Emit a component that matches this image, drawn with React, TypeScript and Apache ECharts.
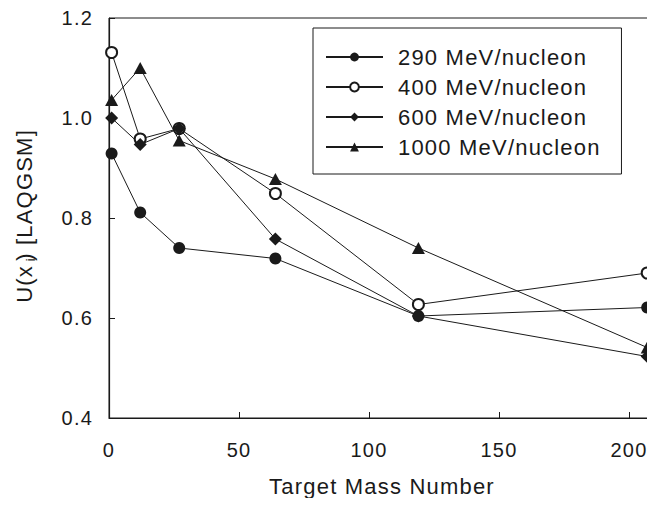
import React, { useEffect, useRef } from "react";
import * as echarts from "echarts";

// Target mass numbers (H, C, Al, Cu, Sn, Pb)
const massNumbers = [1, 12, 27, 64, 119, 207];

// U(x_i) for the LAQGSM model at each beam energy
const u290 = [0.929, 0.811, 0.740, 0.719, 0.604, 0.621];
const u400 = [1.131, 0.958, 0.979, 0.849, 0.627, 0.690];
const u600 = [1.0, 0.947, 0.979, 0.758, 0.604, 0.523];
const u1000 = [1.036, 1.1, 0.955, 0.878, 0.740, 0.541];

const seriesNames = [
  "290 MeV/nucleon",
  "400 MeV/nucleon",
  "600 MeV/nucleon",
  "1000 MeV/nucleon",
];

const FONT = "'Liberation Sans', Arial, Helvetica, sans-serif";
const INK = "#1a1a1a";

const pairs = (ys: number[]) => massNumbers.map((x, i) => [x, ys[i]]);

export default function App() {
  const ref = useRef<HTMLDivElement>(null);

  useEffect(() => {
    if (!ref.current) return;
    const chart = echarts.init(ref.current, undefined, { renderer: "svg" });

    const lineSeries = (
      name: string,
      ys: number[],
      symbol: string,
      size: number | number[]
    ) => ({
      name,
      type: "line",
      data: pairs(ys),
      symbol,
      symbolSize: size,
      showAllSymbol: true,
      clip: false,
      lineStyle: { color: INK, width: 1 },
      itemStyle: {
        color: INK,
        borderColor: INK,
        borderWidth: symbol === "emptyCircle" ? 1 : 0,
      },
      emphasis: { disabled: true },
    });

    chart.setOption({
      animation: false,
      backgroundColor: "#ffffff",
      textStyle: { fontFamily: FONT, color: INK },
      grid: {
        left: 109,
        top: 18,
        width: 550,
        height: 400,
        show: true,
        borderColor: INK,
        borderWidth: 1,
      },
      legend: {
        orient: "vertical",
        left: 313,
        top: 28,
        padding: [17, 40, 15, 12],
        itemWidth: 57,
        itemHeight: 11,
        itemGap: 6,
        borderColor: INK,
        borderWidth: 1,
        backgroundColor: "#ffffff",
        selectedMode: false,
        textStyle: {
          fontSize: 22,
          lineHeight: 24,
          color: INK,
          fontFamily: FONT,
          padding: [0, 0, 0, 10],
        },
        data: seriesNames,
      },
      xAxis: {
        type: "value",
        min: 0,
        max: 210,
        interval: 50,
        name: "Target Mass Number",
        nameLocation: "middle",
        nameGap: 57,
        nameTextStyle: { fontSize: 22, color: INK, fontFamily: FONT },
        axisLine: { show: true, lineStyle: { color: INK, width: 1.2 } },
        axisTick: { show: true, inside: true, length: 6, lineStyle: { color: INK } },
        axisLabel: {
          fontSize: 20,
          color: INK,
          margin: 22,
          showMaxLabel: false,
          formatter: (v: number) => (v % 50 === 0 ? String(v) : ""),
        },
        splitLine: { show: false },
      },
      yAxis: {
        type: "value",
        min: 0.4,
        max: 1.2,
        interval: 0.2,
        name: "U(x{sub|i}) [LAQGSM]",
        nameLocation: "middle",
        nameRotate: 90,
        nameGap: 72,
        nameTextStyle: {
          fontSize: 22,
          lineHeight: 26,
          color: INK,
          fontFamily: FONT,
          rich: {
            sub: {
              fontSize: 13,
              lineHeight: 13,
              verticalAlign: "bottom",
              color: INK,
              fontFamily: FONT,
              padding: [0, 3, 0, 6],
            },
          },
        },
        axisLine: { show: true, lineStyle: { color: INK, width: 1.2 } },
        axisTick: { show: true, inside: true, length: 6, lineStyle: { color: INK } },
        axisLabel: {
          fontSize: 20,
          color: INK,
          margin: 16,
          formatter: (v: number) => v.toFixed(1),
        },
        splitLine: { show: false },
      },
      series: [
        lineSeries(seriesNames[0], u290, "circle", 12),
        lineSeries(seriesNames[1], u400, "emptyCircle", 11),
        lineSeries(seriesNames[2], u600, "diamond", 13),
        lineSeries(seriesNames[3], u1000, "triangle", [13, 12]),
      ],
    });

    return () => chart.dispose();
  }, []);

  return (
    <div
      ref={ref}
      style={{
        width: 655,
        height: 506,
        margin: -8,
        letterSpacing: "1.2px",
        overflow: "hidden",
      }}
    />
  );
}
